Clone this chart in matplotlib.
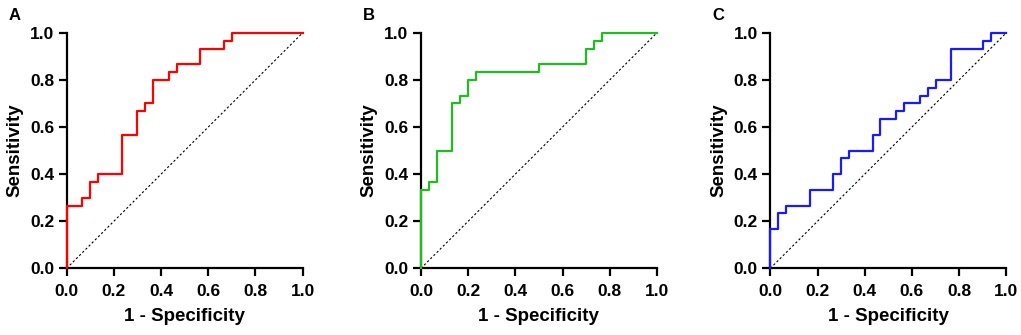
import numpy as np
import matplotlib.pyplot as plt

plt.rcParams['font.family'] = ['Liberation Sans', 'DejaVu Sans']
plt.rcParams['font.weight'] = 'bold'

# ROC step points, counts out of 30 (x = false positives, y = true positives)
fpr_a = [0, 0, 2, 2, 3, 3, 4, 4, 7, 7, 9, 9, 10, 10, 11, 11, 13, 13, 14, 14, 17, 17, 20, 20, 21, 21, 30]
tpr_a = [0, 8, 8, 9, 9, 11, 11, 12, 12, 17, 17, 20, 20, 21, 21, 24, 24, 25, 25, 26, 26, 28, 28, 29, 29, 30, 30]

fpr_b = [0, 0, 1, 1, 2, 2, 4, 4, 5, 5, 6, 6, 7, 7, 15, 15, 21, 21, 22, 22, 23, 23, 30]
tpr_b = [0, 10, 10, 11, 11, 15, 15, 21, 21, 22, 22, 24, 24, 25, 25, 26, 26, 28, 28, 29, 29, 30, 30]

fpr_c = [0, 0, 1, 1, 2, 2, 5, 5, 8, 8, 9, 9, 10, 10, 13, 13, 14, 14, 16, 16, 17, 17,
         19, 19, 20, 20, 21, 21, 23, 23, 27, 27, 28, 28, 30]
tpr_c = [0, 5, 5, 7, 7, 8, 8, 10, 10, 12, 12, 14, 14, 15, 15, 17, 17, 19, 19, 20, 20, 21,
         21, 22, 22, 23, 23, 24, 24, 28, 28, 29, 29, 30, 30]

n_total = 30
panels = ['A', 'B', 'C']
colors = ['#ff0000', '#1fbd1f', '#1a1aff']
curves = [(fpr_a, tpr_a), (fpr_b, tpr_b), (fpr_c, tpr_c)]
lefts = [0.0653, 0.4123, 0.7545]

fig = plt.figure(figsize=(10.21, 3.35), dpi=100)

for lab, col, (fx, ty), left in zip(panels, colors, curves, lefts):
    ax = fig.add_axes([left, 0.199, 0.2311, 0.703])
    x = np.array(fx) / n_total
    y = np.array(ty) / n_total
    ax.plot([0, 1], [0, 1], color='black', linestyle=(0, (2, 2)), linewidth=0.8, clip_on=False)
    ax.plot(x, y, color=col, linewidth=1.6, clip_on=False, zorder=3)

    ax.set_xlim(0, 1)
    ax.set_ylim(0, 1)
    ticks = np.arange(0, 1.01, 0.2)
    ax.set_xticks(ticks)
    ax.set_yticks(ticks)
    ax.set_xticklabels([f'{t:.1f}' for t in ticks], fontsize=12.5, fontweight='bold')
    ax.set_yticklabels([f'{t:.1f}' for t in ticks], fontsize=12.5, fontweight='bold')
    ax.tick_params(direction='out', length=5.5, width=1.6)
    ax.tick_params(axis='x', pad=5.5)
    ax.tick_params(axis='y', pad=3.5)
    for s in ['top', 'right']:
        ax.spines[s].set_visible(False)
    for s in ['left', 'bottom']:
        ax.spines[s].set_linewidth(1.6)
    ax.set_xlabel('1 - Specificity', fontsize=13.5, fontweight='bold', labelpad=6.5)
    ax.set_ylabel('Sensitivity', fontsize=13.5, fontweight='bold', labelpad=4.5)

    fig.text(left - 0.057, 0.955, lab, fontsize=12, fontweight='bold', ha='left', va='center')

fig.savefig('out.png', dpi=100)
